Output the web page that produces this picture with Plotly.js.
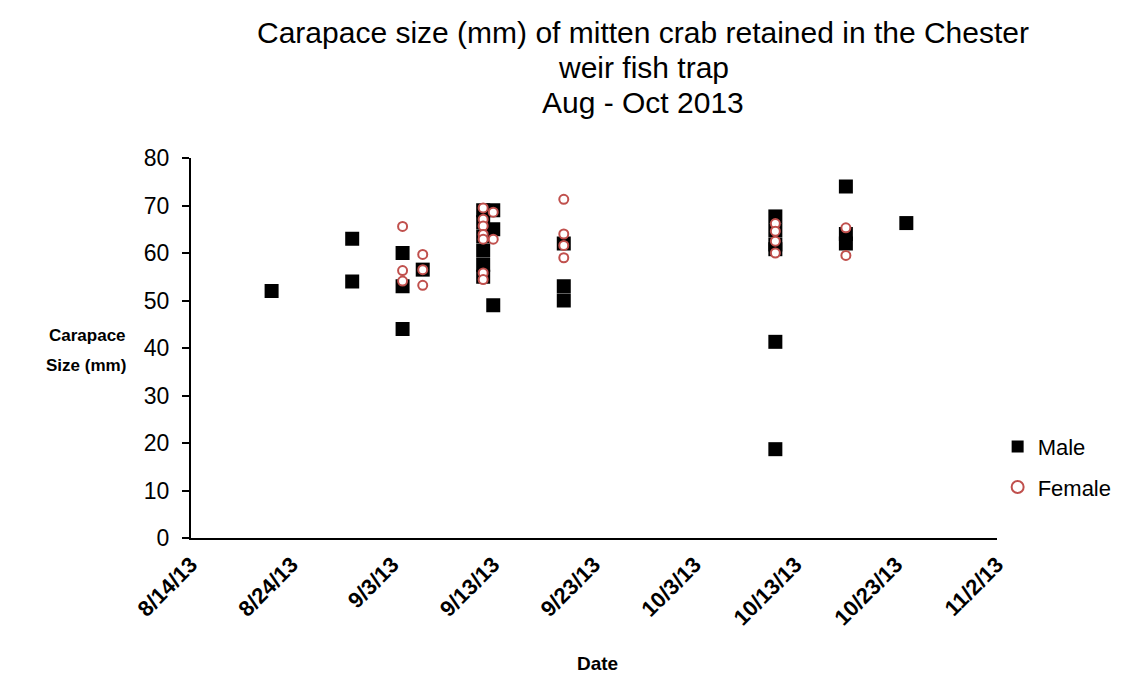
<!DOCTYPE html>
<html>
<head>
<meta charset="utf-8">
<script src="https://cdn.plot.ly/plotly-3.0.1.min.js"></script>
<style>html,body{margin:0;padding:0;background:#fff;}#chart{width:1126px;height:675px;}</style>
</head>
<body>
<div id="chart"></div>
<script>
const maleDates = [
  '2013-08-22',
  '2013-08-30','2013-08-30',
  '2013-09-04','2013-09-04','2013-09-04',
  '2013-09-06',
  '2013-09-12','2013-09-12','2013-09-12','2013-09-12','2013-09-12','2013-09-12',
  '2013-09-13','2013-09-13','2013-09-13',
  '2013-09-20','2013-09-20','2013-09-20',
  '2013-10-11','2013-10-11','2013-10-11','2013-10-11','2013-10-11','2013-10-11',
  '2013-10-18','2013-10-18','2013-10-18',
  '2013-10-24'
];
const maleValues = [
  52,
  63, 54,
  60, 53, 44,
  56.5,
  69, 66.5, 63.5, 60.5, 57.5, 55,
  69, 65, 49,
  62, 53, 50,
  67.7, 64.8, 61.8, 60.8, 41.3, 18.7,
  74, 64, 62,
  66.3
];
const femaleDates = [
  '2013-09-04','2013-09-04','2013-09-04',
  '2013-09-06','2013-09-06','2013-09-06',
  '2013-09-12','2013-09-12','2013-09-12','2013-09-12','2013-09-12','2013-09-12','2013-09-12',
  '2013-09-13','2013-09-13',
  '2013-09-20','2013-09-20','2013-09-20','2013-09-20',
  '2013-10-11','2013-10-11','2013-10-11','2013-10-11',
  '2013-10-18','2013-10-18'
];
const femaleValues = [
  65.6, 56.3, 54.1,
  59.7, 56.5, 53.2,
  69.5, 67.1, 65.7, 63.9, 62.9, 55.8, 54.4,
  68.6, 62.9,
  71.3, 64.0, 61.6, 59.0,
  66.2, 64.6, 62.5, 60.0,
  65.3, 59.5
];
const tickDates = ['2013-08-14','2013-08-24','2013-09-03','2013-09-13','2013-09-23','2013-10-03','2013-10-13','2013-10-23','2013-11-02'];
const tickLabels = ['8/14/13','8/24/13','9/3/13','9/13/13','9/23/13','10/3/13','10/13/13','10/23/13','11/2/13'];
const yTicks = [0,10,20,30,40,50,60,70,80];
const titleLines = ['Carapace size (mm) of mitten crab retained in the Chester', 'weir fish trap', 'Aug - Oct 2013'];
const yTitleLines = ['Carapace', 'Size (mm)'];

const font = 'Liberation Sans, Arial, sans-serif';

const traces = [
  {
    type: 'scatter', mode: 'markers', name: 'Male', legendgroup: 'm',
    x: maleDates, y: maleValues,
    marker: {symbol: 'square', size: 14, color: '#000000', line: {width: 0}}
  },
  {
    type: 'scatter', mode: 'markers', name: 'Female', legendgroup: 'f',
    x: femaleDates, y: femaleValues,
    marker: {symbol: 'circle', size: 9, color: '#ffffff', line: {width: 2, color: '#C0504D'}}
  }
];

const titleY = [1.329, 1.237, 1.145];
const annotations = titleLines.map((t, i) => ({
  text: t, xref: 'paper', yref: 'paper', x: 0.561, y: titleY[i],
  xanchor: 'center', yanchor: 'middle', showarrow: false,
  font: {family: font, size: 30, color: '#000'}
}));
const yTitleY = [0.534, 0.455];
yTitleLines.forEach((t, i) => annotations.push({
  text: '<b>' + t + '</b>',
  xref: 'paper', yref: 'paper', x: -0.078, y: yTitleY[i],
  xanchor: 'right', yanchor: 'middle', align: 'left',
  showarrow: false,
  font: {family: font, size: 17, color: '#000'}
}));
annotations.push({
  text: '<b>Date</b>',
  xref: 'paper', yref: 'paper', x: 0.504, y: -0.329,
  xanchor: 'center', yanchor: 'middle',
  showarrow: false,
  font: {family: font, size: 19, color: '#000'}
});

const layout = {
  width: 1126, height: 675,
  paper_bgcolor: '#ffffff', plot_bgcolor: '#ffffff',
  margin: {l: 191, r: 129, t: 158, b: 137},
  font: {family: font, color: '#000'},
  showlegend: true,
  legend: {
    xref: 'container', yref: 'container',
    x: 0.886, xanchor: 'left', y: 0.3695, yanchor: 'top',
    font: {family: font, size: 22, color: '#000'},
    bgcolor: 'rgba(0,0,0,0)', itemsizing: 'constant',
    traceorder: 'grouped', tracegroupgap: 9, itemwidth: 30
  },
  xaxis: {
    type: 'date',
    range: ['2013-08-14', '2013-11-02'],
    tickmode: 'array', tickvals: tickDates, ticktext: tickLabels.map(t => '<b>' + t + '</b>'),
    tickangle: -45,
    tickfont: {family: font, size: 22, color: '#000'},
    showgrid: false, zeroline: false,
    showline: true, linecolor: '#000', linewidth: 2,
    ticks: 'outside', ticklen: 3, tickcolor: 'rgba(0,0,0,0)',
    automargin: false
  },
  yaxis: {
    range: [0, 80],
    tickmode: 'array', tickvals: yTicks,
    tickfont: {family: font, size: 23, color: '#000'},
    showgrid: false, zeroline: false,
    showline: true, linecolor: '#000', linewidth: 2,
    ticks: 'outside', ticklen: 7, tickwidth: 2, tickcolor: '#000',
    ticklabelstandoff: 8,
    automargin: false
  },
  annotations: annotations
};

Plotly.newPlot('chart', traces, layout, {displayModeBar: false, staticPlot: true});
</script>
</body>
</html>
